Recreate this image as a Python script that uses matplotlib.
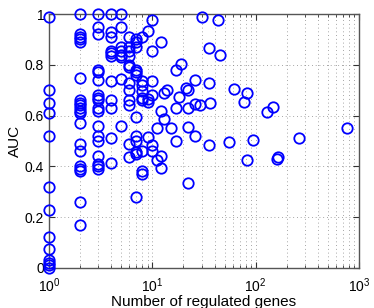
import matplotlib
matplotlib.use("Agg")
import matplotlib.pyplot as plt
from matplotlib.ticker import LogLocator, FixedLocator, NullFormatter

# number of regulated genes per point (column by column)
genes_1 = [1] * 13
auc_1 = [0.99, 0.70, 0.65, 0.61, 0.52, 0.32, 0.23, 0.12, 0.075, 0.03, 0.02, 0.01, 0.0]
genes_2 = [2] * 20
auc_2 = [1.0, 0.92, 0.91, 0.90, 0.89, 0.75, 0.66, 0.65, 0.64, 0.63, 0.62, 0.61,
         0.57, 0.49, 0.46, 0.40, 0.39, 0.38, 0.26, 0.17]
genes_3 = [3] * 18
auc_3 = [1.0, 0.95, 0.92, 0.78, 0.77, 0.74, 0.68, 0.67, 0.66, 0.63, 0.62, 0.56,
         0.52, 0.50, 0.44, 0.41, 0.40, 0.39]
genes_4 = [4] * 11
auc_4 = [1.0, 0.93, 0.91, 0.855, 0.845, 0.835, 0.735, 0.66, 0.63, 0.51, 0.415]
genes_5 = [5] * 8
auc_5 = [1.0, 0.95, 0.87, 0.855, 0.84, 0.83, 0.745, 0.56]
genes_6 = [6] * 12
auc_6 = [0.91, 0.87, 0.855, 0.835, 0.80, 0.79, 0.73, 0.70, 0.66, 0.64, 0.49, 0.435]
genes_7 = [7] * 12
auc_7 = [0.90, 0.89, 0.87, 0.78, 0.77, 0.76, 0.595, 0.52, 0.50, 0.455, 0.45, 0.28]
genes_8 = [8] * 9
auc_8 = [0.91, 0.735, 0.72, 0.695, 0.67, 0.66, 0.46, 0.38, 0.37]

# the sparser part of the plot
genes_rest = [9, 9, 9, 9, 10, 10, 10, 10, 10, 10, 11, 11, 12, 12, 12, 12, 13, 13,
              14, 15, 17, 17, 17, 18, 19, 21, 22, 22, 22, 22, 26, 26, 26, 29, 30,
              35, 35, 35, 36, 43, 45, 55, 61, 77, 83, 83, 95, 130, 146, 160, 163,
              263, 770]
auc_rest = [0.935, 0.665, 0.655, 0.515, 0.975, 0.855, 0.735, 0.68, 0.485, 0.46,
            0.55, 0.425, 0.89, 0.62, 0.44, 0.395, 0.69, 0.585, 0.70, 0.55, 0.78,
            0.63, 0.50, 0.675, 0.805, 0.71, 0.70, 0.63, 0.555, 0.335, 0.74, 0.645,
            0.52, 0.64, 0.99, 0.865, 0.73, 0.485, 0.65, 0.975, 0.84, 0.495, 0.705,
            0.655, 0.69, 0.425, 0.505, 0.615, 0.635, 0.43, 0.435, 0.51, 0.55]

genes = genes_1 + genes_2 + genes_3 + genes_4 + genes_5 + genes_6 + genes_7 + genes_8 + genes_rest
auc = auc_1 + auc_2 + auc_3 + auc_4 + auc_5 + auc_6 + auc_7 + auc_8 + auc_rest

yticks = [0, 0.2, 0.4, 0.6, 0.8, 1]
ytick_labels = ["0", "0.2", "0.4", "0.6", "0.8", "1"]

plt.rcParams['font.family'] = ['Liberation Sans', 'DejaVu Sans']
plt.rcParams['font.size'] = 10

fig = plt.figure(figsize=(3.74, 3.08), dpi=100)
ax = fig.add_axes([0.131, 0.13, 0.829, 0.8245])

ax.plot(genes, auc, linestyle='none', marker='o', markersize=7.5,
        markerfacecolor='none', markeredgecolor='#0000ff', markeredgewidth=1.3,
        clip_on=False, zorder=3)

ax.set_xscale('log')
ax.set_xlim(1, 1000)
ax.set_ylim(0, 1)
ax.xaxis.set_major_locator(LogLocator(base=10, numticks=10))
ax.xaxis.set_minor_locator(LogLocator(base=10, subs=range(2, 10), numticks=20))
ax.xaxis.set_minor_formatter(NullFormatter())
ax.yaxis.set_major_locator(FixedLocator(yticks))
ax.set_yticklabels(ytick_labels)

# matlab-like dotted grid, minor lines only on the log axis
dots = (0, (1, 3.5))
ax.grid(True, which='major', linestyle=dots, color='#888888', linewidth=0.6)
ax.grid(True, which='minor', axis='x', linestyle=dots, color='#888888', linewidth=0.6)
ax.set_axisbelow(True)

ax.tick_params(which='both', direction='in', top=True, right=True, colors='#333333',
               labelcolor='black')
ax.tick_params(which='major', length=4)
ax.tick_params(which='minor', length=2)
ax.tick_params(axis='x', which='major', pad=6)
for s in ax.spines.values():
    s.set_color('#555555')
    s.set_linewidth(1.0)

ax.set_xlabel("Number of regulated genes", labelpad=0, fontsize=11)
ax.set_ylabel("AUC", labelpad=2, fontsize=11)

fig.savefig("out.png", dpi=100)
